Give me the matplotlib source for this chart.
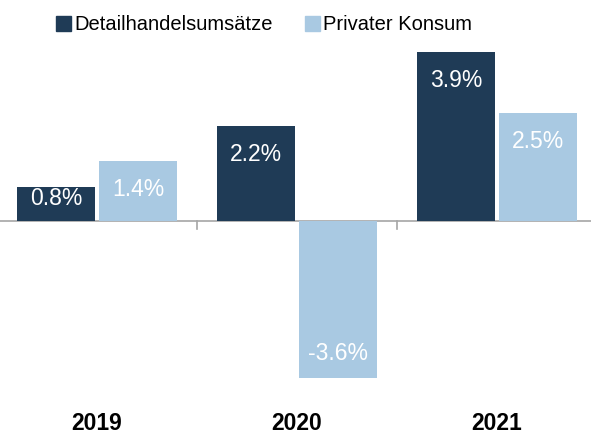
import matplotlib
matplotlib.use("Agg")
from matplotlib import pyplot as plt
from matplotlib.patches import Patch
import numpy as np

years = ["2019", "2020", "2021"]
detailhandel = [0.8, 2.2, 3.9]
konsum = [1.4, -3.6, 2.5]
series_names = ["Detailhandelsumsätze", "Privater Konsum"]

dark = "#1f3b56"
light = "#a9c9e2"

plt.rcParams['font.family'] = ['Liberation Sans', 'DejaVu Sans']

fig = plt.figure(figsize=(5.91, 4.36), dpi=100)
ax = fig.add_axes([0, 0.133, 1, 0.748])

x = np.arange(len(years))
w = 0.39
b1 = ax.bar(x - 0.205, detailhandel, w, color=dark)
b2 = ax.bar(x + 0.205, konsum, w, color=light)

px_per_unit = 0.748 * 436 / 7.5

def label_bars(bars, vals):
	for bar, v in zip(bars, vals):
		cx = bar.get_x() + bar.get_width() / 2
		# label centre sits inside the bar end, pulled in for short bars
		if v >= 0:
			off = min(29, v * px_per_unit - 23) / px_per_unit
			y = v - off
		else:
			y = v + 25 / px_per_unit
		ax.text(cx, y, "%.1f%%" % v, ha="center", va="center", color="white", fontsize=16.5)

label_bars(b1, detailhandel)
label_bars(b2, konsum)

ax.set_xlim(-0.485, 2.47)
ax.set_ylim(-3.6, 3.9)
ax.axhline(0, color="#a6a6a6", lw=1.2, zorder=0)
for t in [0.5, 1.5]:
	ax.plot([t, t], [0, -0.18], color="#a6a6a6", lw=1.2, zorder=0)

for s in ax.spines.values():
	s.set_visible(False)
ax.set_yticks([])
ax.set_xticks([])
for i, yr in enumerate(years):
	ax.text(i, -0.14, yr, transform=ax.get_xaxis_transform(), ha="center", va="center",
			fontsize=16.5, fontweight="bold", color="black")

handles = [Patch(color=dark), Patch(color=light)]
fig.legend(handles, series_names, loc="center", bbox_to_anchor=(0.447, 0.943), ncol=2,
		   frameon=False, fontsize=14.5, handlelength=0.75, handleheight=0.75,
		   handletextpad=0.15, columnspacing=1.6)

fig.savefig("out.png", dpi=100)
